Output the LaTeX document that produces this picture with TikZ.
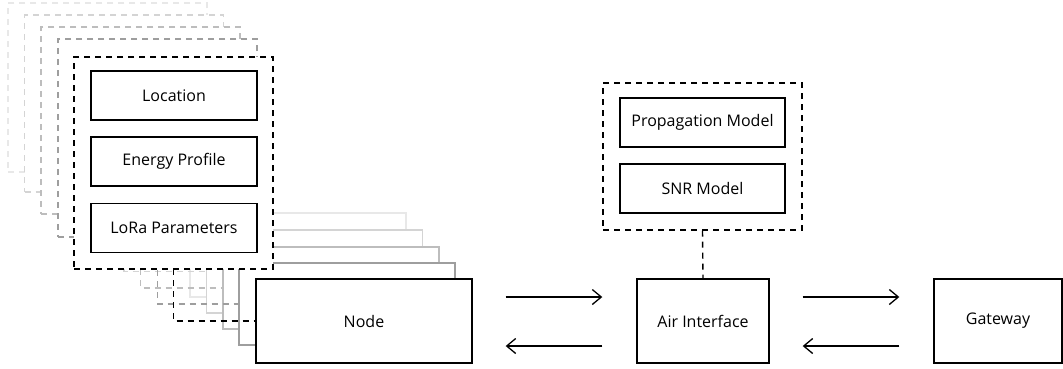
\documentclass[tikz,border=0pt]{standalone}
\usepackage{fontspec}
\setmainfont{Open Sans}
\usetikzlibrary{arrows.meta}
\definecolor{lay1}{gray}{0.62}
\definecolor{lay2}{gray}{0.74}
\definecolor{lay3}{gray}{0.83}
\definecolor{lay4}{gray}{0.91}
\begin{document}
\begin{tikzpicture}[x=1pt,y=-1pt,
  every node/.style={font=\fontsize{16}{19}\selectfont},
  box/.style={draw,fill=white,line width=1.4pt,inner sep=0pt,rectangle},
  dbox/.style={box,dash pattern=on 6pt off 5pt},
  conn/.style={line width=1.4pt,dash pattern=on 6pt off 5pt},
  arr/.style={line width=1.3pt,-{Straight Barb[length=9pt,width=15pt,line width=1.3pt]}}]
\useasboundingbox (0,0) rectangle (1063,368);
% node boxes back to front
\node[box,draw=lay4,minimum width=216pt,minimum height=84pt] (node4) at (298,255) {};
\node[box,draw=lay3,minimum width=216pt,minimum height=83pt] (node3) at (314.5,271.5) {};
\node[box,draw=lay2,minimum width=216pt,minimum height=82pt] (node2) at (331,288) {};
\node[box,draw=lay1,minimum width=216pt,minimum height=82pt] (node1) at (347,304) {};
\node[box,minimum width=216pt,minimum height=84pt] (node0) at (364,321) {Node};
% positions of the dashed boxes and their bottom points
\coordinate (s4) at (107.5,87.5);
\coordinate (s3) at (124,103.5);
\coordinate (s2) at (140.5,120.5);
\coordinate (s1) at (157.5,138);
\coordinate (s0) at (173.5,163);
\coordinate (s4b) at (107.5,172);
\coordinate (s3b) at (124,192);
\coordinate (s2b) at (140.5,214);
\coordinate (s1b) at (157.5,237);
\coordinate (s0b) at (173.5,269);
% connectors back to front
\draw[conn,lay4] (s4b) |- (node4.west);
\draw[conn,lay3] (s3b) |- (node3.west);
\draw[conn,lay2] (s2b) |- (node2.west);
\draw[conn,lay1] (s1b) |- (node1.west);
\draw[conn] (s0b) |- (node0.west);
% dashed boxes back to front
\node[dbox,draw=lay4,minimum width=199pt,minimum height=169pt] (stack4) at (s4) {};
\node[dbox,draw=lay3,minimum width=199pt,minimum height=177pt] (stack3) at (s3) {};
\node[dbox,draw=lay2,minimum width=199pt,minimum height=187pt] (stack2) at (s2) {};
\node[dbox,draw=lay1,minimum width=199pt,minimum height=198pt] (stack1) at (s1) {};
\node[dbox,minimum width=199pt,minimum height=212pt] (stack0) at (s0) {};
% inner boxes
\node[box,minimum width=166pt,minimum height=49pt] (loc) at (174,95.5) {Location};
\node[box,minimum width=166pt,minimum height=49pt] (energy) at (174,161.5) {Energy Profile};
\node[box,minimum width=166pt,minimum height=49pt] (lora) at (174,228) {LoRa Parameters};
% right part
\node[dbox,minimum width=199pt,minimum height=147pt] (models) at (702.5,156.5) {};
\node[box,minimum width=165pt,minimum height=49pt] (prop) at (702.5,122.5) {Propagation Model};
\node[box,minimum width=165pt,minimum height=49pt] (snr) at (702.5,188.5) {SNR Model};
\node[box,minimum width=132pt,minimum height=84pt] (air) at (703,321) {Air Interface};
\node[box,minimum width=128pt,minimum height=84pt] (gw) at (998,321) {Gateway};
\draw[conn] (models.south) -- (air.north);
% arrows
\draw[arr] ([xshift=33pt,yshift=24pt]node0.east) -- ([xshift=-34pt,yshift=24pt]air.west);
\draw[arr] ([xshift=-34pt,yshift=-25pt]air.west) -- ([xshift=33pt,yshift=-25pt]node0.east);
\draw[arr] ([xshift=33pt,yshift=24pt]air.east) -- ([xshift=-34pt,yshift=24pt]gw.west);
\draw[arr] ([xshift=-34pt,yshift=-25pt]gw.west) -- ([xshift=33pt,yshift=-25pt]air.east);
\end{tikzpicture}
\end{document}
